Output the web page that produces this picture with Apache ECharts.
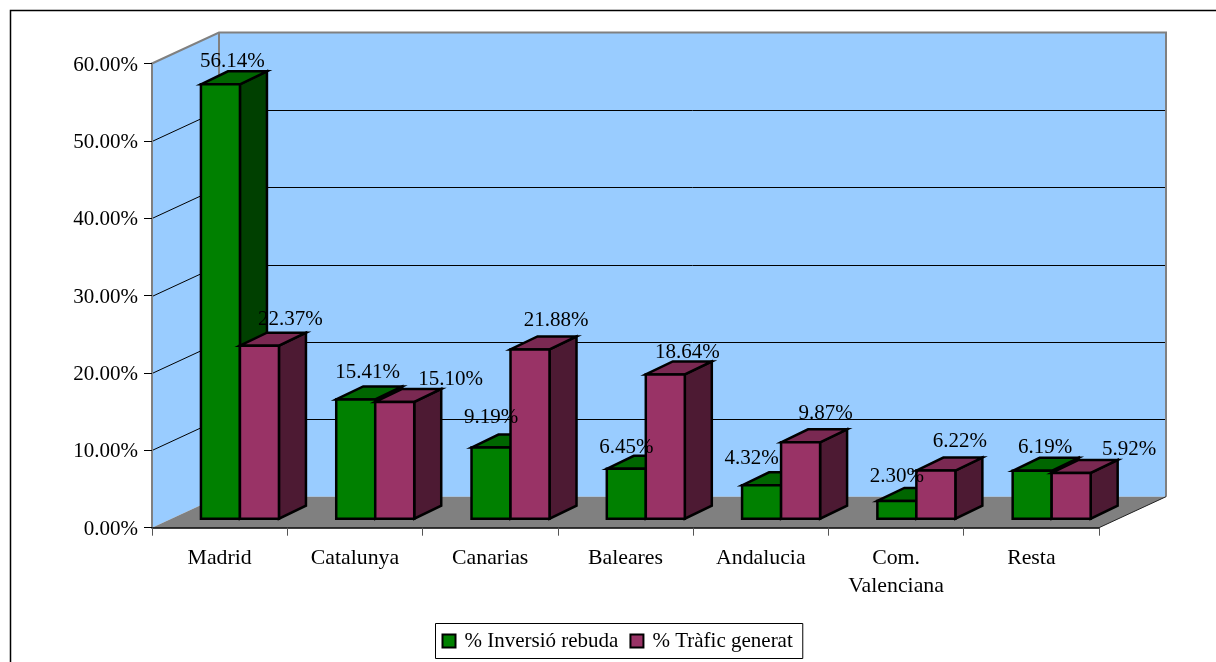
<!DOCTYPE html>
<html><head><meta charset="utf-8">
<style>html,body{margin:0;padding:0;background:#fff;overflow:hidden}#c{width:1216px;height:662px}</style>
<script src="https://cdn.jsdelivr.net/npm/echarts@6/dist/echarts.min.js"></script>
</head><body><div id="c"></div>
<script>
const categories = ['Madrid','Catalunya','Canarias','Baleares','Andalucia','Com.\nValenciana','Resta'];
const inversio = [56.14,15.41,9.19,6.45,4.32,2.30,6.19];
const trafic = [22.37,15.10,21.88,18.64,9.87,6.22,5.92];
const yTicks = [0,10,20,30,40,50,60];
const seriesNames = ['% Inversió rebuda','% Tràfic generat'];

// label nudges (relative to each bar's front-top centre)
const nudgeInv = [[12,-24],[12,-28],[0,-31],[0,-22],[-10,-28],[0,-25],[13,-24]];
const nudgeTra = [[31,-27],[56,-23],[26,-30],[22,-23],[25,-30],[24,-30],[58,-24]];

const FONT = '"Liberation Serif","Times New Roman",serif';
const FS = 21;
const WALL_DX = 67, WALL_DY = 31;
const BAR_DX = 27, BAR_DY = 13;
const BAR_W = 39, SHIFT_X = 20.3, SHIFT_Y = 9;

function barRender(side, colors, nudges) {
  return function (params, api) {
    const i = api.value(0), v = api.value(1);
    const top = api.coord([i, v]), base = api.coord([i, 0]);
    const cx = top[0] + SHIFT_X;
    const x0 = side === 0 ? cx - BAR_W : cx, x1 = x0 + BAR_W;
    const yT = top[1] - SHIFT_Y, yB = base[1] - SHIFT_Y;
    const line = {stroke:'#000', lineWidth:2.5, lineJoin:'miter'};
    const n = nudges[params.dataIndex];
    return {type:'group', children:[
      {type:'polygon', shape:{points:[[x1,yT],[x1+BAR_DX,yT-BAR_DY],[x1+BAR_DX,yB-BAR_DY],[x1,yB]]}, style:Object.assign({fill:colors[2]},line)},
      {type:'polygon', shape:{points:[[x0,yT],[x0+BAR_DX,yT-BAR_DY],[x1+BAR_DX,yT-BAR_DY],[x1,yT]]}, style:Object.assign({fill:colors[1]},line)},
      {type:'rect', shape:{x:x0,y:yT,width:BAR_W,height:yB-yT}, style:Object.assign({fill:colors[0]},line)},
      {type:'text', z2:50, style:{text:v.toFixed(2)+'%', x:(x0+x1)/2+n[0], y:yT+n[1]+1, align:'center', verticalAlign:'middle', font:FS+'px '+FONT, fill:'#000'}}
    ]};
  };
}

function wallRender(params, api) {
  const cs = params.coordSys;
  const L = cs.x, R = cs.x + cs.width;
  const y0 = api.coord([0,0])[1], yTop = api.coord([0,yTicks[yTicks.length-1]])[1];
  const gray = {stroke:'#808080', lineWidth:2};
  const kids = [
    {type:'polygon', shape:{points:[[L,y0],[L+WALL_DX,y0-WALL_DY],[L+WALL_DX,yTop-WALL_DY],[L,yTop]]}, style:{fill:'#99CCFF'}},
    {type:'rect', shape:{x:L+WALL_DX,y:yTop-WALL_DY,width:R-L,height:y0-yTop}, style:{fill:'#99CCFF'}},
    {type:'polygon', shape:{points:[[L,y0],[R,y0],[R+WALL_DX,y0-WALL_DY],[L+WALL_DX,y0-WALL_DY]]}, style:{fill:'#808080'}}
  ];
  yTicks.slice(1,-1).forEach(t => {
    const y = Math.round(api.coord([0,t])[1]) + 0.5;
    kids.push({type:'polyline', shape:{points:[[L,y],[L+WALL_DX,y-WALL_DY],[R+WALL_DX,y-WALL_DY]]}, style:{fill:'none',stroke:'#000',lineWidth:1}});
  });
  kids.push({type:'polyline', shape:{points:[[L,y0],[L,yTop],[L+WALL_DX,yTop-WALL_DY],[R+WALL_DX,yTop-WALL_DY],[R+WALL_DX,y0-WALL_DY]]}, style:Object.assign({fill:'none'},gray)});
  kids.push({type:'line', shape:{x1:L+WALL_DX,y1:yTop-WALL_DY,x2:L+WALL_DX,y2:y0-WALL_DY}, style:gray});
  kids.push({type:'line', shape:{x1:R,y1:y0,x2:R+WALL_DX,y2:y0-WALL_DY}, style:{stroke:'#222',lineWidth:1}});
  return {type:'group', children:kids};
}

const chart = echarts.init(document.getElementById('c'), null, {renderer:'canvas'});
chart.setOption({
  animation:false,
  backgroundColor:'#fff',
  textStyle:{fontFamily:FONT},
  graphic:[{type:'rect', z:0, silent:true, shape:{x:10.5,y:10.5,width:1300,height:800}, style:{fill:'none',stroke:'#000',lineWidth:1.5}}],
  grid:{left:152,right:117,top:63.5,bottom:134.3,containLabel:false},
  legend:{
    data:seriesNames, left:435.5, top:623.5, orient:'horizontal',
    backgroundColor:'#fff', borderColor:'#000', borderWidth:1, padding:[7,10,7,6],
    itemWidth:13, itemHeight:13, itemGap:11, icon:'rect', selectedMode:false,
    textStyle:{fontFamily:FONT, fontSize:FS, color:'#000', padding:[0,0,0,4]},
    itemStyle:{borderColor:'#000',borderWidth:2}
  },
  xAxis:{type:'category', data:categories, z:1,
    axisLine:{lineStyle:{color:'#000',width:1.5}},
    axisTick:{show:true,alignWithLabel:false,length:8,lineStyle:{color:'#555',width:1}},
    axisLabel:{interval:0,fontFamily:FONT,fontSize:21.8,color:'#000',margin:17,lineHeight:28},
    splitLine:{show:false}
  },
  yAxis:{type:'value', min:0, max:60, interval:10, z:1,
    axisLine:{show:true,lineStyle:{color:'#808080',width:1.5}},
    axisTick:{show:true,length:8,lineStyle:{color:'#000',width:1}},
    axisLabel:{fontFamily:FONT,fontSize:FS,color:'#000',margin:14,verticalAlign:'top',lineHeight:3,formatter:v=>v.toFixed(2)+'%'},
    splitLine:{show:false}
  },
  series:[
    {type:'custom', name:'walls', z:0, silent:true, clip:false, renderItem:wallRender, data:[[0,0]], encode:{x:0,y:1}},
    {type:'custom', name:seriesNames[0], z:2, clip:false, itemStyle:{color:'#008000'}, renderItem:barRender(0,['#008000','#006600','#004000'],nudgeInv), data:inversio.map((v,i)=>[i,v]), encode:{x:0,y:1}},
    {type:'custom', name:seriesNames[1], z:2, clip:false, itemStyle:{color:'#993366'}, renderItem:barRender(1,['#993366','#7A2952','#4D1A33'],nudgeTra), data:trafic.map((v,i)=>[i,v]), encode:{x:0,y:1}}
  ]
});
</script></body></html>
